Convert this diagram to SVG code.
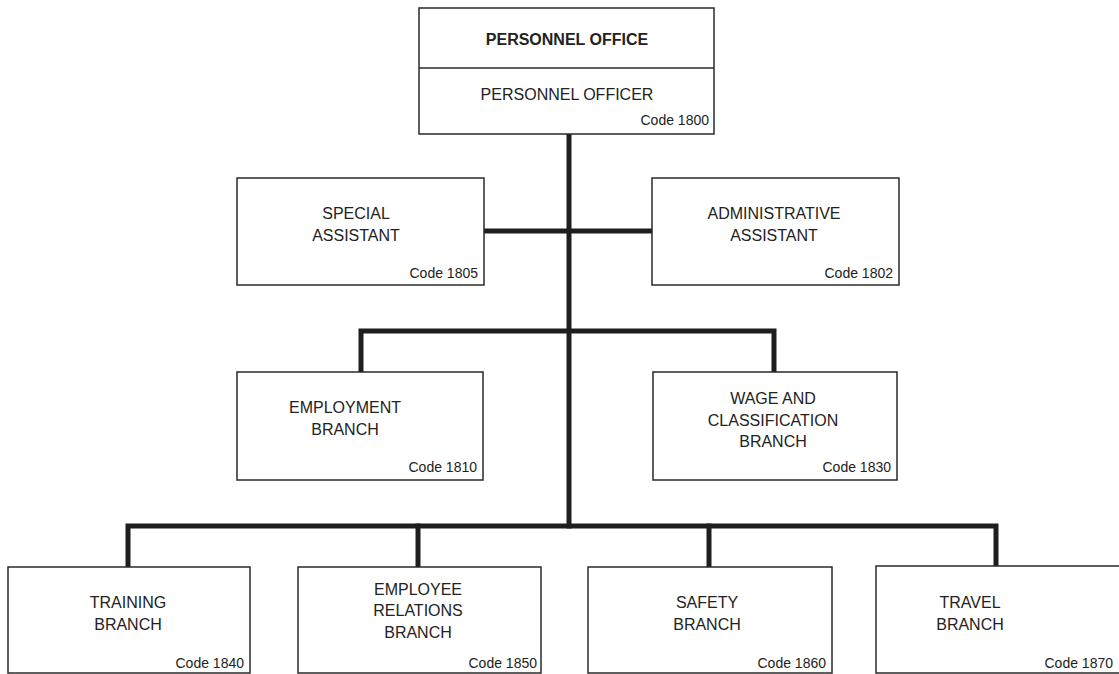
<svg xmlns="http://www.w3.org/2000/svg" width="1119" height="674" viewBox="0 0 1119 674">
<style>
.box{fill:#fff;stroke:#2a2a2a;stroke-width:1.5}
.t{font-family:"Liberation Sans",Arial,sans-serif;font-size:16px;fill:#222;text-anchor:middle}
.b{font-weight:bold}
.c{font-family:"Liberation Sans",Arial,sans-serif;font-size:14px;fill:#222;text-anchor:end}
.con{fill:none;stroke:#1e1e1e;stroke-width:5;stroke-linejoin:miter;stroke-linecap:square}
</style>
<rect width="1119" height="674" fill="#fff"/>
<g id="connectors">
<path class="con" d="M569 136 V526"/>
<path class="con" d="M486 231 H650"/>
<path class="con" d="M361 370 V331 H774 V370"/>
<path class="con" d="M128 565 V526 H996 V565"/>
<path class="con" d="M418 526 V565"/>
<path class="con" d="M709 526 V565"/>
</g>
<g id="personnel-office">
<rect class="box" x="419" y="8" width="295" height="126"/>
<line x1="419" y1="68" x2="714" y2="68" stroke="#2a2a2a" stroke-width="1.5"/>
<text class="t b" x="567" y="45">PERSONNEL OFFICE</text>
<text class="t" x="567" y="100">PERSONNEL OFFICER</text>
<text class="c" x="709" y="125">Code 1800</text>
</g>
<g id="special-assistant">
<rect class="box" x="237" y="178" width="247" height="107"/>
<text class="t" x="356" y="219">SPECIAL</text>
<text class="t" x="356" y="241">ASSISTANT</text>
<text class="c" x="478" y="278">Code 1805</text>
</g>
<g id="administrative-assistant">
<rect class="box" x="652" y="178" width="247" height="107"/>
<text class="t" x="774" y="219">ADMINISTRATIVE</text>
<text class="t" x="774" y="241">ASSISTANT</text>
<text class="c" x="893" y="278">Code 1802</text>
</g>
<g id="employment-branch">
<rect class="box" x="237" y="372" width="246" height="108"/>
<text class="t" x="345" y="413">EMPLOYMENT</text>
<text class="t" x="345" y="435">BRANCH</text>
<text class="c" x="477" y="472">Code 1810</text>
</g>
<g id="wage-classification-branch">
<rect class="box" x="653" y="372" width="244" height="108"/>
<text class="t" x="773" y="404">WAGE AND</text>
<text class="t" x="773" y="426">CLASSIFICATION</text>
<text class="t" x="773" y="447">BRANCH</text>
<text class="c" x="891" y="472">Code 1830</text>
</g>
<g id="training-branch">
<rect class="box" x="8" y="567" width="242" height="106"/>
<text class="t" x="128" y="608">TRAINING</text>
<text class="t" x="128" y="630">BRANCH</text>
<text class="c" x="244" y="668">Code 1840</text>
</g>
<g id="employee-relations-branch">
<rect class="box" x="298" y="567" width="243" height="106"/>
<text class="t" x="418" y="595">EMPLOYEE</text>
<text class="t" x="418" y="616">RELATIONS</text>
<text class="t" x="418" y="638">BRANCH</text>
<text class="c" x="537" y="668">Code 1850</text>
</g>
<g id="safety-branch">
<rect class="box" x="588" y="567" width="244" height="106"/>
<text class="t" x="707" y="608">SAFETY</text>
<text class="t" x="707" y="630">BRANCH</text>
<text class="c" x="826" y="668">Code 1860</text>
</g>
<g id="travel-branch">
<rect class="box" x="876" y="566" width="250" height="107"/>
<text class="t" x="970" y="608">TRAVEL</text>
<text class="t" x="970" y="630">BRANCH</text>
<text class="c" x="1113" y="668">Code 1870</text>
</g>
</svg>
